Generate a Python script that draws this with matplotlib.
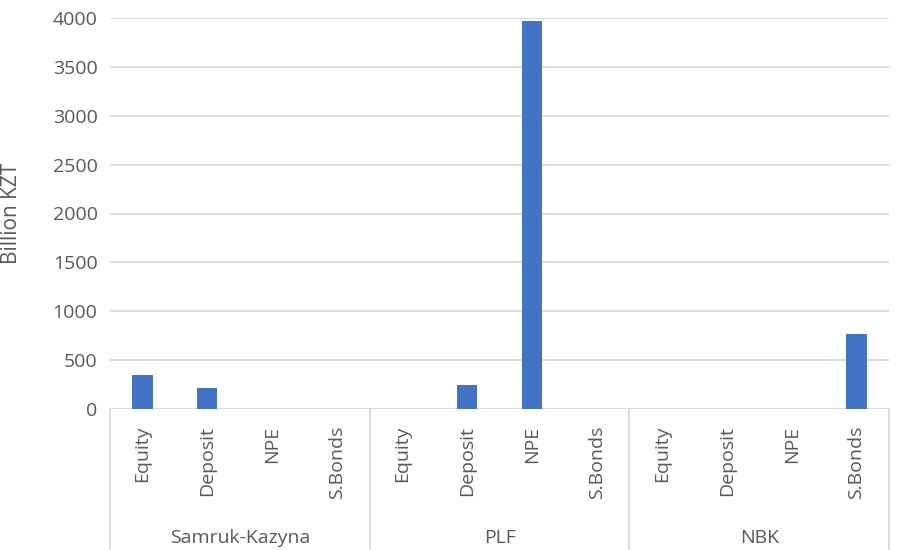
import matplotlib
matplotlib.use("Agg")
import matplotlib.pyplot as plt
from matplotlib import transforms

# data (billion KZT)
groups = ["Samruk-Kazyna", "PLF", "NBK"]
items = ["Equity", "Deposit", "NPE", "S.Bonds"]
samruk = [350, 215, 0, 0]
plf = [0, 245, 3970, 0]
nbk = [0, 0, 0, 770]

values = samruk + plf + nbk
labels = items * len(groups)

plt.rcParams["font.family"] = ["Open Sans", "DejaVu Sans"]
text_col = "#595959"
grid_col = "#d9d9d9"
fs = 14

fig = plt.figure(figsize=(8.99, 5.5), dpi=100)
ax = fig.add_axes([110 / 899, 141 / 550, 779 / 899, 391 / 550])

x = list(range(len(values)))
ax.bar(x, values, width=0.31, color="#4472c4", zorder=3)

ax.set_xlim(-0.5, len(values) - 0.5)
ax.set_ylim(0, 4000)
ax.set_yticks(range(0, 4001, 500))
ax.yaxis.grid(True, color=grid_col, linewidth=1.3, zorder=0)
for s in ax.spines.values():
    s.set_visible(False)

ax.tick_params(axis="y", length=0, pad=9, labelsize=fs, labelcolor=text_col)
ax.set_xticks(x)
ax.set_xticklabels(labels, rotation=90)
ax.tick_params(axis="x", length=0, pad=12, labelsize=fs, labelcolor=text_col)
ax.set_ylabel("Billion KZT", fontsize=fs + 1, color=text_col)
ax.yaxis.set_label_coords(-0.113, 0.5)

# group separators and group names below the axis
trans = transforms.blended_transform_factory(ax.transData, ax.transAxes)
n = len(items)
for g in range(len(groups) + 1):
    ax.plot([g * n - 0.5, g * n - 0.5], [0, -0.36], color=grid_col, lw=1.3,
            transform=trans, clip_on=False)
for g, name in enumerate(groups):
    ax.text(g * n + (n - 1) / 2, -0.33, name, transform=trans, ha="center",
            va="center", fontsize=fs, color=text_col)

fig.savefig("out.png", dpi=100)
